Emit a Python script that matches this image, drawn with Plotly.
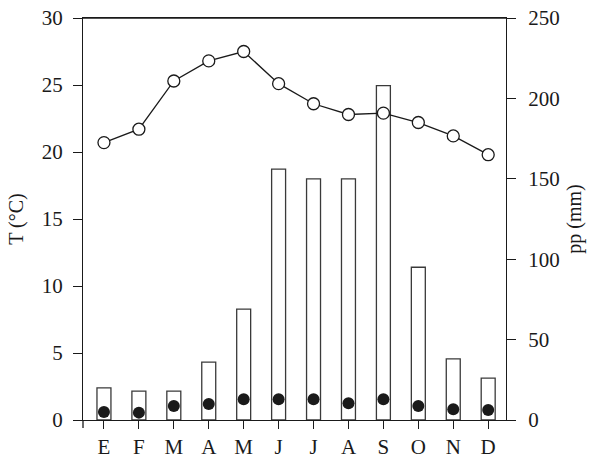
import plotly.graph_objects as go

months = ["E", "F", "M", "A", "M", "J", "J", "A", "S", "O", "N", "D"]
precip_mm = [20, 18, 18, 36, 69, 156, 150, 150, 208, 95, 38, 26]
temp_c = [20.7, 21.7, 25.3, 26.8, 27.5, 25.1, 23.6, 22.8, 22.9, 22.2, 21.2, 19.8]
dots_c = [0.6, 0.55, 1.05, 1.2, 1.55, 1.55, 1.55, 1.25, 1.55, 1.05, 0.8, 0.75]

x = list(range(len(months)))
FONT = "Liberation Serif"
INK = "#1a1a1a"

W, H = 591, 458

fig = go.Figure()
fig.add_trace(go.Bar(
    x=x, y=precip_mm, width=0.4, yaxis="y",
    marker=dict(color="white", line=dict(color="#3a3a3a", width=1.3)),
    showlegend=False,
))
fig.add_trace(go.Scatter(
    x=x, y=temp_c, yaxis="y2", mode="lines+markers",
    line=dict(color=INK, width=1.3),
    marker=dict(symbol="circle", size=12, color="white", line=dict(color=INK, width=1.3)),
    showlegend=False,
))
fig.add_trace(go.Scatter(
    x=x, y=dots_c, yaxis="y2", mode="markers",
    marker=dict(symbol="circle", size=12, color=INK, line=dict(width=0)),
    showlegend=False, cliponaxis=False,
))

fig.update_layout(
    width=W, height=H,
    margin=dict(l=83, r=85, t=18, b=38, autoexpand=False),
    paper_bgcolor="white", plot_bgcolor="white",
    font=dict(family=FONT, size=21, color=INK),
    xaxis=dict(
        range=[-0.6, 11.51], tickvals=x, ticktext=months,
        showline=True, linecolor=INK, linewidth=1.3, mirror=True,
        ticks="outside", ticklen=8, tickwidth=1.3, tickcolor=INK,
        showgrid=False, zeroline=False, ticklabelstandoff=0,
        ticklabeloverflow="allow",
    ),
    yaxis=dict(
        side="right", range=[0, 250], tickvals=[0, 50, 100, 150, 200, 250],
        showline=True, linecolor=INK, linewidth=1.3,
        ticks="outside", ticklen=9, tickwidth=1.3, tickcolor=INK,
        showgrid=False, zeroline=False, ticklabelstandoff=8,
        ticklabeloverflow="allow",
        title=dict(text="pp (mm)", font=dict(size=20), standoff=8),
    ),
    yaxis2=dict(
        overlaying="y", side="left", range=[0, 30], tickvals=[0, 5, 10, 15, 20, 25, 30],
        showline=True, linecolor=INK, linewidth=1.3,
        ticks="outside", ticklen=9, tickwidth=1.3, tickcolor=INK,
        showgrid=False, zeroline=False, ticklabelstandoff=6,
        ticklabeloverflow="allow",
        title=dict(text="T (°C)", font=dict(size=20), standoff=12),
    ),
    shapes=[
        dict(type="line", xref="paper", yref="paper", x0=0, x1=0, y0=0, y1=-8 / 402,
             line=dict(color=INK, width=1.3)),
        dict(type="line", xref="paper", yref="paper", x0=0, x1=1, y0=1, y1=1,
             line=dict(color=INK, width=1.3)),
    ],
)

fig.write_html(
    "out.html",
    config={"displayModeBar": False},
    post_script="document.body.style.margin='0px';",
)
